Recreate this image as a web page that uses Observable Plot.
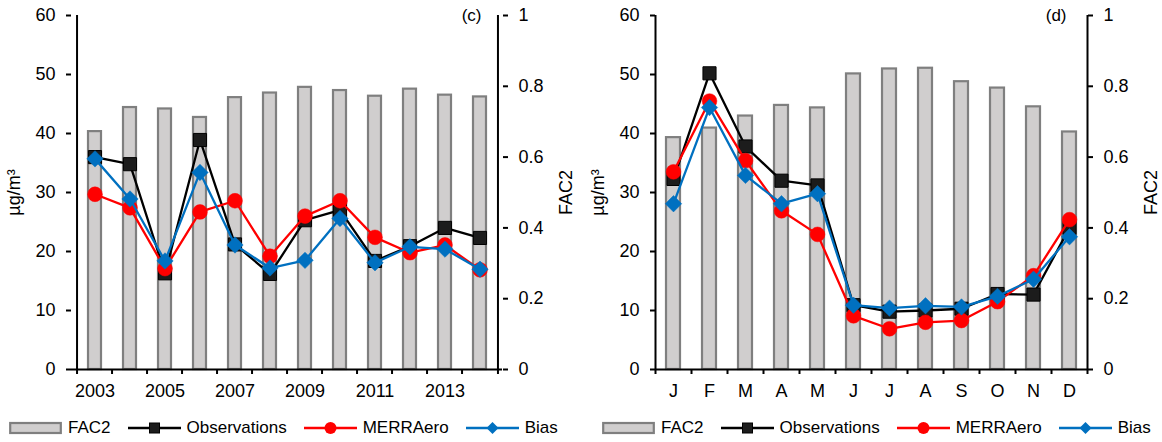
<!DOCTYPE html>
<html>
<head>
<meta charset="utf-8">
<script src="https://cdn.jsdelivr.net/npm/d3@7"></script>
<script src="https://cdn.jsdelivr.net/npm/@observablehq/plot@0.6"></script>
<style>
  body { margin: 0; background: #fff; font-family: "Liberation Sans", Arial, sans-serif; }
  #wrap { position: relative; width: 1162px; height: 442px; overflow: hidden; }
  .panel { position: absolute; top: 0; width: 581px; height: 400px; }
  .panel svg { position: absolute; left: 0; top: 0; }
  .legend { position: absolute; top: 418px; height: 20px; display: flex; align-items: center;
            font-size: 17px; color: #000; white-space: nowrap; }
  .item { display: flex; align-items: center; margin-right: 17px; }
  .item svg { margin-right: 6px; display: block; }
</style>
</head>
<body>
<div id="wrap"></div>
<script>
// Annual panel (c)
const years = ["2003","2004","2005","2006","2007","2008","2009","2010","2011","2012","2013","2014"];
const yearLabels = ["2003","","2005","","2007","","2009","","2011","","2013",""];
const fac2Year = [0.672, 0.740, 0.736, 0.712, 0.768, 0.781, 0.797, 0.788, 0.772, 0.792, 0.775, 0.770];
const obsYear = [36.0, 34.8, 16.3, 38.9, 21.2, 16.2, 25.3, 27.0, 18.4, 20.9, 24.0, 22.3];
const merraYear = [29.7, 27.4, 17.1, 26.7, 28.6, 19.2, 26.0, 28.6, 22.4, 19.8, 21.1, 16.9];
const biasYear = [35.7, 28.9, 18.4, 33.4, 21.1, 17.2, 18.5, 25.6, 18.1, 20.8, 20.4, 17.0];

// Monthly panel (d)
const months = ["Jan","Feb","Mar","Apr","May","Jun","Jul","Aug","Sep","Oct","Nov","Dec"];
const monthLabels = ["J","F","M","A","M","J","J","A","S","O","N","D"];
const fac2Month = [0.655, 0.682, 0.716, 0.746, 0.739, 0.835, 0.849, 0.851, 0.813, 0.795, 0.742, 0.671];
const obsMonth = [32.3, 50.2, 37.8, 32.0, 31.2, 10.9, 9.8, 10.0, 10.3, 12.8, 12.7, 24.0];
const merraMonth = [33.5, 45.5, 35.4, 26.9, 22.9, 9.1, 6.9, 8.0, 8.3, 11.5, 15.9, 25.4];
const biasMonth = [28.1, 44.4, 32.9, 28.1, 29.8, 10.9, 10.4, 10.8, 10.6, 12.4, 15.3, 22.5];

// Axis ticks
const concTicks = [0, 10, 20, 30, 40, 50, 60];
const fac2Ticks = [0, 0.2, 0.4, 0.6, 0.8, 1];

const FONT = '"Liberation Sans", Arial, sans-serif';
const BAR_FILL = "#d0cece", BAR_STROKE = "#7f7f7f";
const OBS = "#000000", MERRA = "#ff0000", BIAS = "#0070c0";
const W = 581, H = 400, MT = 15, MB = 31;

function panel({cats, labels, fac2, obs, merra, bias, tag, left, ml, mr}) {
  const bw = (W - ml - mr) / cats.length;
  const rows = cats.map((c, i) => ({c, fac2: fac2[i], obs: obs[i], merra: merra[i], bias: bias[i]}));
  const labelOf = new Map(cats.map((c, i) => [c, labels[i]]));
  const shown = cats.filter((c, i) => labels[i] !== "");
  const base = {
    width: W, height: H, marginTop: MT, marginBottom: MB, marginLeft: ml, marginRight: mr,
    style: {fontFamily: FONT, fontSize: "18px", color: "#000", background: "transparent", overflow: "visible"},
    x: {type: "band", domain: cats, padding: 0, axis: null}
  };

  // FAC2 bars on the right-hand axis
  const back = Plot.plot({
    ...base,
    y: {domain: [0, 1], axis: null},
    marks: [
      Plot.barY(rows, {x: "c", y: "fac2", fill: BAR_FILL, stroke: BAR_STROKE, strokeWidth: 2.2,
                       insetLeft: 11, insetRight: 11}),
      Plot.ruleX([cats[cats.length - 1]], {dx: bw / 2, stroke: "#000", strokeWidth: 2}),
      Plot.axisY(fac2Ticks, {anchor: "right", tickSize: 5, tickPadding: 11, strokeWidth: 2,
                             tickFormat: d3.format("~g"), label: null}),
      Plot.text(["FAC2"], {text: d => d, frameAnchor: "right", dx: 64, rotate: -90,
                           textAnchor: "middle", lineAnchor: "middle"})
    ]
  });

  // Concentration series on the left-hand axis
  const front = Plot.plot({
    ...base,
    y: {domain: [0, 60], axis: null},
    marks: [
      Plot.ruleY([0], {stroke: "#000", strokeWidth: 2}),
      Plot.ruleX([cats[0]], {dx: -bw / 2, stroke: "#000", strokeWidth: 2}),
      Plot.ruleX(cats, {dx: -bw / 2, y1: 0, y2: 0, insetTop: 5, stroke: "#000", strokeWidth: 2}),
      Plot.ruleX([cats[cats.length - 1]], {dx: bw / 2, y1: 0, y2: 0, insetTop: 5, stroke: "#000", strokeWidth: 2}),
      Plot.axisY(concTicks, {anchor: "left", tickSize: 5, tickPadding: 11, strokeWidth: 2, label: null}),
      Plot.axisX(shown, {anchor: "bottom", tickSize: 0, tickPadding: 15, tickFormat: d => labelOf.get(d), label: null}),
      Plot.lineY(rows, {x: "c", y: "obs", stroke: OBS, strokeWidth: 2.3}),
      Plot.dot(rows, {x: "c", y: "obs", symbol: "square", r: 7.4, fill: "#1c1c1c", stroke: "#000", strokeWidth: 1}),
      Plot.lineY(rows, {x: "c", y: "merra", stroke: MERRA, strokeWidth: 2.3}),
      Plot.dot(rows, {x: "c", y: "merra", symbol: "circle", r: 7.4, fill: MERRA, stroke: MERRA, strokeWidth: 0.5}),
      Plot.lineY(rows, {x: "c", y: "bias", stroke: BIAS, strokeWidth: 2.3}),
      Plot.dot(rows, {x: "c", y: "bias", symbol: "diamond2", r: 7.4, fill: BIAS, stroke: BIAS, strokeWidth: 0.5}),
      Plot.text([tag], {text: d => d, frameAnchor: "top-right", dx: -21, textAnchor: "end", lineAnchor: "middle",
                        fontSize: 17}),
      Plot.text(["µg/m³"], {text: d => d, frameAnchor: "left", dx: -57, rotate: -90,
                            textAnchor: "middle", lineAnchor: "middle"})
    ]
  });

  const div = document.createElement("div");
  div.className = "panel";
  div.style.left = left + "px";
  div.append(back, front);
  return div;
}

function swatch(kind) {
  const s = d3.create("svg").attr("width", 53).attr("height", 16);
  if (kind === "bar") {
    s.append("rect").attr("x", 1.2).attr("y", 3).attr("width", 50.6).attr("height", 10)
      .attr("fill", BAR_FILL).attr("stroke", BAR_STROKE).attr("stroke-width", 2.2);
  } else {
    const color = kind === "obs" ? OBS : kind === "merra" ? MERRA : BIAS;
    s.append("line").attr("x1", 0).attr("x2", 53).attr("y1", 8).attr("y2", 8)
      .attr("stroke", color).attr("stroke-width", 2.3);
    if (kind === "obs") s.append("rect").attr("x", 21.5).attr("y", 3).attr("width", 10).attr("height", 10).attr("fill", "#1c1c1c").attr("stroke", "#000");
    if (kind === "merra") s.append("circle").attr("cx", 26.5).attr("cy", 8).attr("r", 6).attr("fill", MERRA);
    if (kind === "bias") s.append("path").attr("d", "M26.5,2L32.5,8L26.5,14L20.5,8Z").attr("fill", BIAS);
  }
  return s.node();
}

function legend(left) {
  const div = document.createElement("div");
  div.className = "legend";
  div.style.left = left + "px";
  for (const [kind, name] of [["bar", "FAC2"], ["obs", "Observations"], ["merra", "MERRAero"], ["bias", "Bias"]]) {
    const item = document.createElement("div");
    item.className = "item";
    const t = document.createElement("span");
    t.textContent = name;
    item.append(swatch(kind), t);
    div.append(item);
  }
  return div;
}

const wrap = document.getElementById("wrap");
wrap.append(
  panel({cats: years, labels: yearLabels, fac2: fac2Year, obs: obsYear, merra: merraYear, bias: biasYear,
         tag: "(c)", left: 0, ml: 71, mr: 79}),
  panel({cats: months, labels: monthLabels, fac2: fac2Month, obs: obsMonth, merra: merraMonth, bias: biasMonth,
         tag: "(d)", left: 581, ml: 74, mr: 75}),
  legend(9),
  legend(602)
);
</script>
</body>
</html>
